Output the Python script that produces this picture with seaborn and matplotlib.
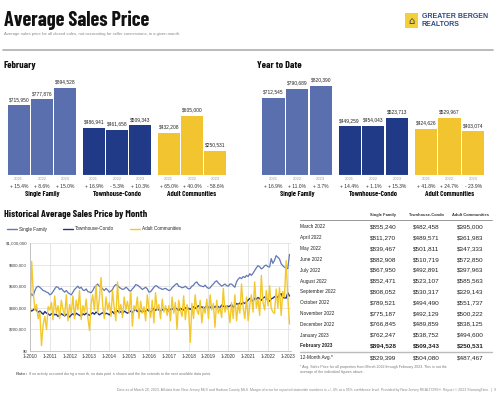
import numpy as np
import pandas as pd
import matplotlib
matplotlib.use("Agg")
import matplotlib.pyplot as plt
import matplotlib.transforms as mtrans
from matplotlib.lines import Line2D
from matplotlib.patches import Rectangle
import seaborn as sns

# ---------------- data ----------------
categories = ["Single Family", "Townhouse-Condo", "Adult Communities"]
years = ["2021", "2022", "2023"]

feb_sf = [715950, 777876, 894528]
feb_tc = [486941, 461658, 509343]
feb_ac = [432208, 605000, 250531]
feb_pct_sf = ["+ 15.4%", "+ 8.6%", "+ 15.0%"]
feb_pct_tc = ["+ 16.9%", "- 5.3%", "+ 10.3%"]
feb_pct_ac = ["+ 65.0%", "+ 40.0%", "- 58.6%"]

ytd_sf = [712545, 790689, 820390]
ytd_tc = [449259, 454043, 523713]
ytd_ac = [424626, 529967, 403074]
ytd_pct_sf = ["+ 16.9%", "+ 11.0%", "+ 3.7%"]
ytd_pct_tc = ["+ 14.4%", "+ 1.1%", "+ 15.3%"]
ytd_pct_ac = ["+ 41.8%", "+ 24.7%", "- 23.9%"]

table_months = ["March 2022", "April 2022", "May 2022", "June 2022", "July 2022",
                "August 2022", "September 2022", "October 2022", "November 2022",
                "December 2022", "January 2023", "February 2023"]
table_sf = [855240, 811270, 839467, 882908, 867950, 852471, 808052, 789521, 775187, 766845, 762247, 894528]
table_tc = [482458, 489571, 501811, 510719, 492891, 523107, 530317, 494490, 492129, 489859, 538752, 509343]
table_ac = [395000, 361983, 347333, 572850, 397963, 585563, 329143, 551737, 500222, 838125, 494600, 250531]
avg_sf, avg_tc, avg_ac = 829399, 504080, 487467

# monthly history Jan 2010 .. Feb 2022 (thousands $); Mar 2022 onward = table values
sf_hist_k = [
    495, 530, 510, 560, 590, 600, 590, 575, 560, 555, 545, 540,
    520, 530, 550, 575, 595, 590, 570, 580, 560, 545, 560, 540,
    530, 520, 545, 570, 585, 600, 580, 590, 565, 560, 575, 550,
    545, 540, 560, 590, 605, 620, 600, 590, 575, 560, 580, 565,
    545, 555, 570, 600, 615, 610, 590, 580, 570, 575, 590, 580,
    560, 555, 575, 590, 615, 610, 600, 585, 570, 580, 590, 575,
    545, 550, 570, 590, 605, 600, 585, 580, 570, 575, 580, 570,
    560, 565, 585, 600, 615, 625, 600, 595, 585, 590, 600, 585,
    575, 580, 600, 610, 630, 640, 615, 605, 600, 595, 610, 590,
    580, 585, 605, 620, 640, 650, 630, 615, 600, 610, 620, 605,
    600, 620, 620, 605, 590, 640, 665, 680, 670, 690, 680, 700,
    690, 716, 700, 720, 745, 770, 790, 780, 760, 770, 790, 795,
    780, 778,
]
tc_hist_k = [
    385, 370, 380, 395, 375, 360, 370, 355, 340, 365, 350, 345,
    330, 345, 350, 335, 340, 320, 330, 345, 335, 325, 340, 330,
    315, 335, 345, 330, 350, 340, 330, 325, 345, 335, 350, 340,
    330, 345, 355, 340, 360, 350, 335, 345, 355, 340, 350, 345,
    335, 350, 365, 345, 360, 375, 355, 365, 350, 370, 360, 350,
    360, 370, 355, 375, 385, 365, 380, 370, 360, 375, 365, 385,
    370, 360, 380, 395, 375, 390, 380, 370, 385, 375, 395, 380,
    370, 385, 395, 380, 400, 390, 375, 395, 385, 380, 400, 390,
    395, 385, 400, 410, 395, 405, 420, 400, 410, 395, 405, 420,
    400, 410, 395, 415, 405, 420, 410, 400, 425, 415, 405, 420,
    410, 417, 430, 405, 420, 440, 430, 445, 435, 450, 440, 455,
    470, 487, 475, 460, 490, 480, 495, 485, 470, 490, 500, 485,
    475, 462,
]
ac_hist_k = [
    270, 830, 550, 380, 430, 300, 360, 50, 250, 320, 200, 410,
    380, 450, 290, 510, 350, 420, 300, 470, 380, 330, 520, 280,
    430, 350, 510, 300, 470, 380, 560, 290, 420, 360, 480, 310,
    190, 440, 520, 380, 610, 350, 480, 680, 420, 300, 500, 380,
    450, 320, 560, 400, 280, 640, 350, 430, 310, 500, 380, 460,
    350, 540, 230, 420, 380, 500, 300, 460, 350, 410, 280, 520,
    390, 310, 470, 260, 540, 380, 430, 300, 480, 360, 420, 330,
    420, 280, 500, 350, 450, 200, 470, 380, 320, 510, 290, 430,
    360, 80, 440, 300, 520, 380, 340, 470, 260, 410, 350, 480,
    300, 520, 380, 440, 220, 470, 350, 400, 310, 580, 360, 420,
    380, 262, 450, 300, 520, 280, 430, 350, 620, 400, 300, 500,
    280, 432, 520, 360, 640, 400, 480, 330, 700, 450, 380, 560,
    420, 605,
]

# ---------------- style ----------------
sns.set_theme(style="white")
BASE = ["Liberation Sans", "DejaVu Sans"]
NARROW = ["Barlow Condensed", "Liberation Sans", "DejaVu Sans"]
plt.rcParams["font.family"] = BASE

C_SF = "#5a70ae"
C_TC = "#213a88"
C_AC = "#f2c42f"
L_SF = "#6178b6"
L_TC = "#1f3583"
L_AC = "#f3c82c"
cat_colors = [C_SF, C_TC, C_AC]

W, H = 500, 398
fig = plt.figure(figsize=(W / 100, H / 100), dpi=100)


def ax_px(l, t, r, b):
    return fig.add_axes([l / W, 1 - b / H, (r - l) / W, (b - t) / H])


def ftext(x, y, s, **kw):
    return fig.text(x / W, 1 - y / H, s, **kw)


def hline(x0, x1, y, color, lw):
    fig.add_artist(Line2D([x0 / W, x1 / W], [1 - y / H, 1 - y / H],
                          transform=fig.transFigure, color=color, lw=lw))


# ---------------- header ----------------
ftext(4, 20, "Average Sales Price", fontsize=14.5, fontweight="bold",
      family=NARROW, va="center", ha="left", color="#111111")
ftext(4, 34, "Average sales price for all closed sales, not accounting for seller concessions, in a given month.",
      fontsize=3.1, color="#888888", va="center", ha="left")
hline(3, 493, 50, "#b5b5b5", 1.3)
fig.add_artist(Rectangle((405 / W, 1 - 28 / H), 13 / W, 15 / H, transform=fig.transFigure,
                         facecolor="#f3d03a", edgecolor="none"))
ftext(411.5, 20.5, "⌂", fontsize=7, color="#333b4f", ha="center", va="center", family=["DejaVu Sans"])
ftext(422, 16, "GREATER BERGEN", fontsize=5.0, fontweight="bold", color="#2e4a86", va="center", ha="left")
ftext(422, 24, "REALTORS", fontsize=5.0, fontweight="bold", color="#2e4a86", va="center", ha="left")


# ---------------- bar panels ----------------
def bar_panel(box, title, title_xy, sf, tc, ac, psf, ptc, pac, top_frac, xlim):
    ax = ax_px(*box)
    df = pd.DataFrame({
        "cat": [c for c in categories for _ in years],
        "year": years * 3,
        "val": list(sf) + list(tc) + list(ac),
    })
    sns.barplot(data=df, x="cat", y="val", hue="year", order=categories, hue_order=years,
                width=0.93, gap=0.06, legend=False, ax=ax, linewidth=0, errorbar=None)
    for p in ax.patches:
        cx = p.get_x() + p.get_width() / 2
        p.set_facecolor(cat_colors[int(round(cx))])
        p.set_edgecolor("none")
    vmax = df["val"].max()
    ax.set_ylim(0, vmax * top_frac)
    ax.set_xlim(*xlim)
    for s in ax.spines.values():
        s.set_visible(False)
    ax.set_xticks([])
    ax.set_yticks([])
    ax.set_xlabel("")
    ax.set_ylabel("")
    ax.axhline(0, color="#d0d0d0", lw=0.8)
    pcts = [psf, ptc, pac]
    tr = mtrans.blended_transform_factory(ax.transData, ax.transAxes)
    for j, cont in enumerate(ax.containers):
        ax.bar_label(cont, labels=[f"${v:,.0f}" for v in cont.datavalues],
                     padding=2.5, fontsize=3.5, color="#222222")
        for i, bar in enumerate(cont):
            cx = bar.get_x() + bar.get_width() / 2
            ax.text(cx, -0.035, years[j], transform=tr, fontsize=3.0, color="#9a9a9a",
                    ha="center", va="center")
            ax.text(cx, -0.11, pcts[i][j], transform=tr, fontsize=3.6, color="#333333",
                    ha="center", va="center")
    for i, c in enumerate(categories):
        ax.text(i, -0.18, c, transform=tr, fontsize=5.2, fontweight="bold", family=NARROW,
                color="#111111", ha="center", va="center")
    ftext(title_xy[0], title_xy[1], title, fontsize=7.2, fontweight="bold", family=NARROW,
          ha="left", va="center", color="#111111")
    return ax


bar_panel((3, 70, 233, 175), "February", (4, 65), feb_sf, feb_tc, feb_ac,
          feb_pct_sf, feb_pct_tc, feb_pct_ac, 105 / 87, (-0.52, 2.547))
bar_panel((257, 70, 490, 175), "Year to Date", (257, 65), ytd_sf, ytd_tc, ytd_ac,
          ytd_pct_sf, ytd_pct_tc, ytd_pct_ac, 105 / 89, (-0.526, 2.53))

# ---------------- historical line chart ----------------
dates = pd.date_range("2010-01-01", periods=len(sf_hist_k) + len(table_sf), freq="MS")
sf_all = [v * 1000 for v in sf_hist_k] + table_sf
tc_all = [v * 1000 for v in tc_hist_k] + table_tc
ac_all = [v * 1000 for v in ac_hist_k] + table_ac
hist = pd.DataFrame({
    "date": list(dates) * 3,
    "val": sf_all + tc_all + ac_all,
    "series": ["Single Family"] * len(dates) + ["Townhouse-Condo"] * len(dates)
              + ["Adult Communities"] * len(dates),
})

axl = ax_px(30, 243, 291, 351)
sns.lineplot(data=hist, x="date", y="val", hue="series", hue_order=categories,
             palette=[L_SF, L_TC, L_AC], linewidth=1.0, ax=axl, legend=False)
for ln, lw in zip(axl.lines, [0.9, 1.0, 1.0]):
    ln.set_linewidth(lw)
axl.set_ylim(0, 1_000_000)
axl.set_xlim(pd.Timestamp("2010-01-01"), pd.Timestamp("2023-03-01"))
yt = [0, 200000, 400000, 600000, 800000, 1000000]
axl.set_yticks(yt)
axl.set_yticklabels([f"${v:,.0f}" for v in yt], fontsize=3.2, color="#444444")
xt = pd.date_range("2010-01-01", "2023-01-01", freq="YS")
axl.set_xticks(xt)
axl.set_xticklabels([f"1-{d.year}" for d in xt], fontsize=3.4, color="#333333")
axl.tick_params(axis="both", length=0, pad=2)
axl.grid(True, color="#dcdcdc", lw=0.5)
for k, s in axl.spines.items():
    s.set_visible(k in ("left", "bottom"))
    s.set_color("#bbbbbb")
    s.set_linewidth(0.6)
axl.set_xlabel("")
axl.set_ylabel("")

handles = [Line2D([], [], color=c, lw=1.0) for c in [L_SF, L_TC, L_AC]]
fig.legend(handles, categories, loc="center left", bbox_to_anchor=(5 / W, 1 - 229 / H),
           ncol=3, frameon=False, fontsize=3.3, handlelength=2.2, handletextpad=0.4,
           columnspacing=3.5, borderaxespad=0)

ftext(4, 215, "Historical Average Sales Price by Month", fontsize=7.2, fontweight="bold",
      family=NARROW, ha="left", va="center", color="#111111")
ftext(15, 374, r"$\bf{Note:}$ If no activity occurred during a month, no data point is shown and the line extends to the next available data point.",
      fontsize=2.6, color="#777777", ha="left", va="center")

# ---------------- table ----------------
col_x = [383, 426, 470]
ftext(col_x[0], 215, "Single Family", fontsize=2.9, fontweight="bold", ha="center", va="center", color="#333333")
ftext(col_x[1], 215, "Townhouse-Condo", fontsize=2.9, fontweight="bold", ha="center", va="center", color="#333333")
ftext(col_x[2], 215, "Adult Communities", fontsize=2.9, fontweight="bold", ha="center", va="center", color="#333333")
hline(300, 492, 220, "#888888", 0.6)
row_y0, dy = 227, 10.8
for r, m in enumerate(table_months):
    y = row_y0 + r * dy
    bold = (r == len(table_months) - 1)
    fw = "bold" if bold else "normal"
    ftext(300, y, m, fontsize=3.4, fontweight=fw, ha="left", va="center", color="#222222")
    for cx, vals in zip(col_x, [table_sf, table_tc, table_ac]):
        ftext(cx, y, f"${vals[r]:,.0f}", fontsize=4.6, fontweight=fw, ha="center", va="center", color="#222222")
hline(300, 492, 352, "#bbbbbb", 1.0)
ftext(300, 358, "12-Month Avg.*", fontsize=3.4, ha="left", va="center", color="#222222")
for cx, v in zip(col_x, [avg_sf, avg_tc, avg_ac]):
    ftext(cx, 358, f"${v:,.0f}", fontsize=4.6, ha="center", va="center", color="#222222")
ftext(300, 367, "* Avg. Sales Price for all properties from March 2022 through February 2023. This is not the",
      fontsize=2.6, color="#777777", ha="left", va="center")
ftext(300, 372, "average of the individual figures above.", fontsize=2.6, color="#777777", ha="left", va="center")

# ---------------- footer ----------------
ftext(496, 390, "Data as of March 20, 2023. All data from New Jersey MLS and Hudson County MLS. Margin of error for reported statewide numbers is +/- 4% at a 95% confidence level. Provided by New Jersey REALTORS\u00ae. Report \u00a9 2023 ShowingTime.  |  9",
      fontsize=2.5, color="#888888", ha="right", va="center")

fig.savefig("out.png", dpi=100)
